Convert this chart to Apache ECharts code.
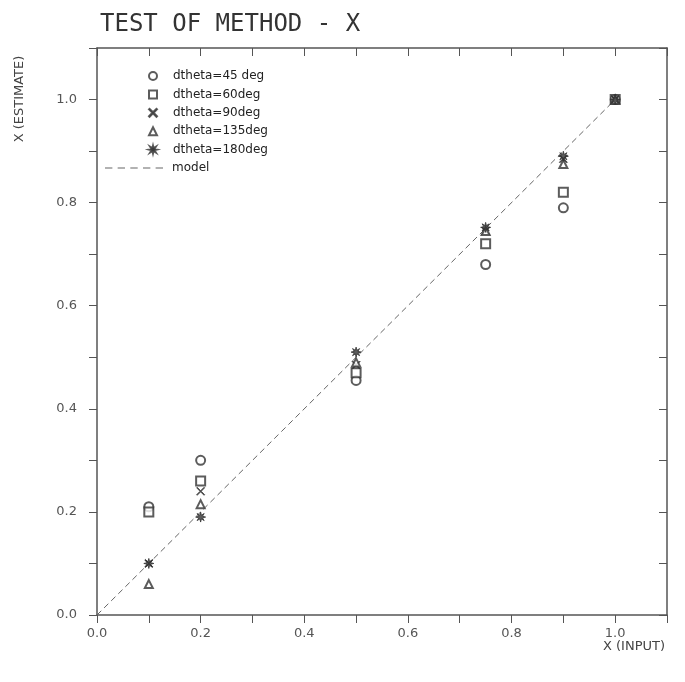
<!DOCTYPE html>
<html>
<head>
<meta charset="utf-8">
<script src="https://cdn.jsdelivr.net/npm/echarts@6/dist/echarts.min.js"></script>
<style>
  html, body { margin: 0; padding: 0; background: #fff; }
  #chart { width: 685px; height: 682px; }
</style>
</head>
<body>
<div id="chart"></div>
<script>
// values
const xInput = [0.1, 0.2, 0.5, 0.75, 0.9, 1.0];
const est45 = [0.21, 0.30, 0.455, 0.68, 0.79, 1.0];
const est60 = [0.20, 0.26, 0.47, 0.72, 0.82, 1.0];
const est90 = [0.10, 0.24, 0.485, 0.745, 0.885, 1.0];
const est135 = [0.06, 0.215, 0.49, 0.745, 0.875, 1.0];
const est180 = [0.10, 0.19, 0.51, 0.752, 0.89, 1.0];
const modelX = [0.0, 1.0];
const modelY = [0.0, 1.0];
const seriesNames = ["dtheta=45 deg", "dtheta=60deg", "dtheta=90deg", "dtheta=135deg", "dtheta=180deg"];

const ink = "#333";
const crossPath = "path://M0,0.7 L0.7,0 L5,4.3 L9.3,0 L10,0.7 L5.7,5 L10,9.3 L9.3,10 L5,5.7 L0.7,10 L0,9.3 L4.3,5 Z";
const starPath = "path://M10,5 L6.85,5.77 L8.54,8.54 L5.77,6.85 L5,10 L4.23,6.85 L1.46,8.54 L3.15,5.77 L0,5 L3.15,4.23 L1.46,1.46 L4.23,3.15 L5,0 L5.77,3.15 L8.54,1.46 L6.85,4.23 Z";
const dashPath = "path://M0,0 h7 v1 h-7 z M12,0 h7 v1 h-7 z M24,0 h7 v1 h-7 z M36,0 h7 v1 h-7 z M48,0 h7 v1 h-7 z";

function pairs(xs, ys) {
  return xs.map((x, i) => [x, ys[i]]);
}

function scatter(name, ys, symbol, size) {
  return {
    name: name,
    type: "scatter",
    data: pairs(xInput, ys),
    symbol: symbol,
    symbolSize: size,
    itemStyle: { color: ink, borderColor: ink, borderWidth: 1 },
    z: 3
  };
}

function fmt(v) {
  return Math.round(v * 10) % 2 === 0 ? v.toFixed(1) : "";
}

const axisBase = {
  type: "value",
  min: 0,
  max: 1.1,
  interval: 0.1,
  splitLine: { show: false },
  axisLine: { show: true, onZero: false, lineStyle: { color: "#555", width: 1.5 } },
  axisTick: { show: true, length: 8, lineStyle: { color: "#555", width: 1 } }
};

const labelStyle = { color: "#555", fontSize: 13, fontFamily: "DejaVu Sans", formatter: fmt };
const legendText = { color: "#222", fontSize: 12, fontFamily: "DejaVu Sans", lineHeight: 14 };

const chart = echarts.init(document.getElementById("chart"), null, { renderer: "canvas" });

chart.setOption({
  backgroundColor: "#fff",
  animation: false,
  title: {
    text: "TEST OF METHOD - X",
    left: 95,
    top: 8,
    textStyle: { fontFamily: "DejaVu Sans Mono", fontSize: 24, fontWeight: "normal", color: "#333" }
  },
  grid: { left: 97, right: 18, top: 48, bottom: 67 },
  legend: [
    {
      data: seriesNames,
      orient: "vertical",
      left: 143,
      top: 64,
      itemWidth: 8,
      itemHeight: 8,
      itemGap: 4.4,
      textStyle: Object.assign({ padding: [0, 0, 0, 11] }, legendText)
    },
    {
      data: [{ name: "model", icon: dashPath }],
      orient: "vertical",
      left: 100,
      top: 156,
      itemWidth: 58,
      itemHeight: 1.2,
      textStyle: Object.assign({ padding: [0, 0, 0, 4] }, legendText)
    }
  ],
  xAxis: [
    Object.assign({}, axisBase, { position: "bottom", axisLabel: Object.assign({ margin: 12 }, labelStyle) }),
    Object.assign({}, axisBase, { position: "top", axisLabel: { show: false },
      axisTick: { show: true, inside: true, length: 8, lineStyle: { color: "#555" } } })
  ],
  yAxis: [
    Object.assign({}, axisBase, { position: "left", axisLabel: Object.assign({ margin: 20 }, labelStyle) }),
    Object.assign({}, axisBase, { position: "right", axisLabel: { show: false },
      axisTick: { show: true, inside: true, length: 8, lineStyle: { color: "#555" } } })
  ],
  graphic: [
    {
      type: "text",
      x: 20,
      y: 99,
      rotation: Math.PI / 2,
      style: { text: "X (ESTIMATE)", fill: "#444", fontSize: 13, fontFamily: "DejaVu Sans", align: "center", verticalAlign: "middle" }
    },
    {
      type: "text",
      x: 665,
      y: 647,
      style: { text: "X (INPUT)", fill: "#444", fontSize: 13, fontFamily: "DejaVu Sans", align: "right", verticalAlign: "middle" }
    }
  ],
  series: [
    scatter(seriesNames[0], est45, "emptyCircle", 9),
    scatter(seriesNames[1], est60, "emptyRect", 9),
    scatter(seriesNames[2], est90, crossPath, 8),
    scatter(seriesNames[3], est135, "emptyTriangle", 8),
    scatter(seriesNames[4], est180, starPath, 10),
    {
      name: "model",
      type: "line",
      data: pairs(modelX, modelY),
      symbol: "none",
      lineStyle: { color: "#666", width: 1, type: [6, 4] },
      itemStyle: { color: "#666" },
      z: 2
    }
  ]
});
</script>
</body>
</html>
